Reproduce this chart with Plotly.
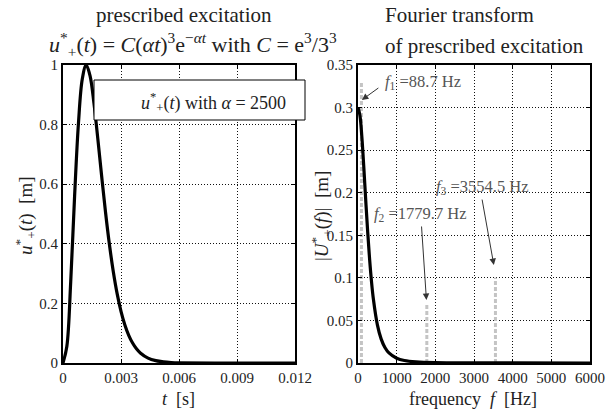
import plotly.graph_objects as go

# ---- data ----
t_vals = [0, 0.0002, 0.0004, 0.0006, 0.0008, 0.001, 0.0012, 0.0014, 0.0016, 0.0018,
          0.002, 0.0022, 0.0024, 0.0026, 0.0028, 0.003, 0.0032, 0.0034, 0.0036, 0.0038,
          0.004, 0.0044, 0.0048, 0.0052, 0.0056, 0.006, 0.008, 0.012]
u_vals = [0, 0.0564, 0.2737, 0.5602, 0.8054, 0.9541, 1.0, 0.9632, 0.8720, 0.7531,
          0.6266, 0.5058, 0.3983, 0.3071, 0.2327, 0.1736, 0.1278, 0.0930, 0.0669, 0.0477,
          0.0338, 0.0165, 0.0079, 0.0037, 0.0017, 0.0008, 0.00001, 0.0]

f_vals = [0, 50, 100, 150, 200, 250, 300, 350, 400, 500, 600, 700, 800, 1000, 1200,
          1500, 2000, 3000, 4000, 6000]
U_vals = [0.3, 0.2908, 0.2654, 0.2300, 0.1912, 0.1542, 0.1219, 0.0953, 0.0742, 0.0451,
          0.0280, 0.0179, 0.0118, 0.0056, 0.0029, 0.0013, 0.0004, 0.0001, 0.00003, 0.0]

marker_f = [88.7, 1779.7, 3554.5]
marker_h = [0.33, 0.07, 0.10]
marker_labels = ["<i>f</i><sub>1</sub> =88.7 Hz", "<i>f</i><sub>2</sub> =1779.7 Hz",
                 "<i>f</i><sub>3</sub> =3554.5 Hz"]

left_xticks = [0, 0.003, 0.006, 0.009, 0.012]
left_xlabels = ["0", "0.003", "0.006", "0.009", "0.012"]
left_yticks = [0, 0.2, 0.4, 0.6, 0.8, 1]
left_ylabels = ["0", "0.2", "0.4", "0.6", "0.8", "1"]
right_xticks = [0, 1000, 2000, 3000, 4000, 5000, 6000]
right_yticks = [0, 0.05, 0.1, 0.15, 0.2, 0.25, 0.3, 0.35]
right_ylabels = ["0", "0.05", "0.1", "0.15", "0.2", "0.25", "0.3", "0.35"]

W, H = 608, 410
FONT = "Liberation Serif"


def px(x):
    return x / W


def py(y):
    return 1 - y / H


fig = go.Figure()

# dashed marker lines (right)
for f, h in zip(marker_f, marker_h):
    fig.add_trace(go.Scatter(x=[f, f], y=[0, h], mode="lines", xaxis="x2", yaxis="y2",
                             line=dict(color="#c4c4c4", width=3, dash="4px,2px"),
                             showlegend=False, hoverinfo="skip"))

fig.add_trace(go.Scatter(x=t_vals, y=u_vals, mode="lines", line=dict(color="black", width=3.2, shape="spline"),
                         showlegend=False))
fig.add_trace(go.Scatter(x=f_vals, y=U_vals, mode="lines", xaxis="x2", yaxis="y2",
                         line=dict(color="black", width=3.2, shape="spline"), showlegend=False))

ydom = [py(363), py(65)]
axcommon = dict(showline=True, linecolor="black", linewidth=2, mirror="ticks", ticks="inside",
                ticklen=4, tickcolor="black", showgrid=True, gridcolor="#111", griddash="1px,2px",
                gridwidth=1, zeroline=False, automargin=False,
                tickfont=dict(family=FONT, size=15, color="#222"))

fig.update_layout(
    template="none",
    width=W, height=H, margin=dict(l=0, r=0, t=0, b=0, autoexpand=False),
    paper_bgcolor="white", plot_bgcolor="white",
    xaxis=dict(domain=[px(63), px(295)], range=[0, 0.012], tickvals=left_xticks,
               ticktext=left_xlabels, anchor="y", **axcommon),
    yaxis=dict(domain=ydom, range=[0, 1], tickvals=left_yticks, ticktext=left_ylabels,
               anchor="x", **axcommon),
    xaxis2=dict(domain=[px(358), px(590)], range=[0, 6000], tickvals=right_xticks,
                anchor="y2", **axcommon),
    yaxis2=dict(domain=ydom, range=[0, 0.35], tickvals=right_yticks, ticktext=right_ylabels,
                anchor="x2", **axcommon),
)

anns = [
    dict(text="prescribed excitation", x=px(184), y=py(15), size=21),
    dict(text="<i>u</i><sup>*</sup><sub>+</sub>(<i>t</i>) = <i>C</i>(<i>αt</i>)<sup>3</sup>e<sup>−<i>αt</i></sup> with <i>C</i> = e<sup>3</sup>/3<sup>3</sup>",
         x=px(193), y=py(45), size=22),
    dict(text="Fourier transform", x=px(383), y=py(15), xanchor="left", size=21),
    dict(text="of prescribed excitation", x=px(383), y=py(46), xanchor="left", size=21),
    dict(text="<i>t</i>  [s]", x=px(178), y=py(399), size=18),
    dict(text="frequency  <i>f</i>  [Hz]", x=px(473), y=py(399), size=18),
    dict(text="<i>u</i><sup>*</sup><sub>+</sub>(<i>t</i>)  [m]", x=px(25), y=py(216), textangle=-90, size=19),
    dict(text="|<i>U</i><sup>*</sup><sub>+</sub>(<i>f</i>)|  [m]", x=px(321), y=py(216), textangle=-90, size=19),
]
for a in anns:
    a.setdefault("xanchor", "center")
    sz = a.pop("size")
    fig.add_annotation(xref="paper", yref="paper", yanchor="middle", showarrow=False,
                       font=dict(family=FONT, size=sz, color="#222"), **a)

# legend box
fig.add_shape(type="rect", xref="paper", yref="paper", x0=px(94), x1=px(305),
              y0=py(120), y1=py(80), line=dict(color="black", width=1),
              fillcolor="white", layer="above")
fig.add_annotation(xref="paper", yref="paper", x=px(213), y=py(88), showarrow=False,
                   text="<i>u</i><sup>*</sup><sub>+</sub>(<i>t</i>) with <i>α</i> = 2500",
                   font=dict(family=FONT, size=18, color="#222"))

# frequency annotations
label_pos = [(1672, 0.330), (1607, 0.175), (3209, 0.2067)]
arrow_head = [(100, 0.309), (1770, 0.074), (3513, 0.115)]
arrow_off = [(18, -13), (-5, -75), (-12, -67)]
for lab, (lx, ly), (hx, hy), (ax, ay) in zip(marker_labels, label_pos, arrow_head, arrow_off):
    fig.add_annotation(xref="x2", yref="y2", x=lx, y=ly, text=lab, showarrow=False,
                       font=dict(family=FONT, size=16.5, color="#555"))
    fig.add_annotation(xref="x2", yref="y2", x=hx, y=hy, text="", showarrow=True,
                       ax=ax, ay=ay, arrowhead=2, arrowsize=1.3, arrowwidth=1, arrowcolor="#333")

# remove the browser's default 8px body margin so the figure fills the window
fig.write_html("out.html", config={"displayModeBar": False},
               post_script="document.body.style.margin='0px';")
